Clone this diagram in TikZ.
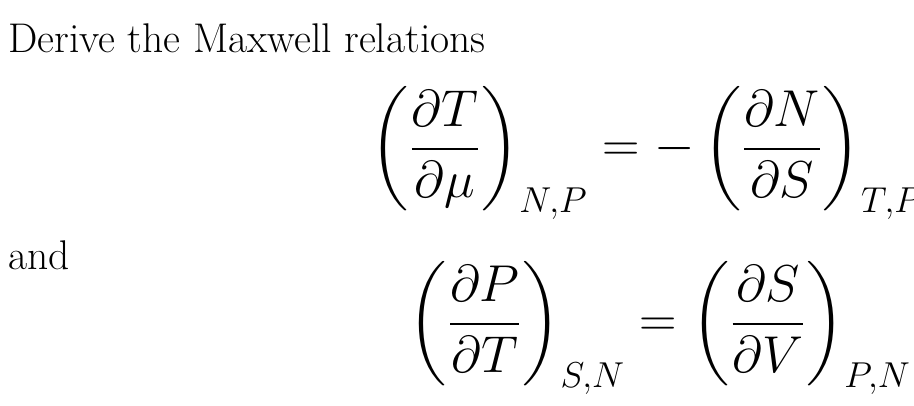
\documentclass[tikz,border=0pt]{standalone}
\usepackage{amsmath}
\begin{document}
\begin{tikzpicture}[x=1pt,y=-1pt,every node/.style={inner sep=0pt}]
\tikzset{txt/.style={font=\fontsize{41.5}{48}\selectfont,anchor=base west},
  eqn/.style={font=\fontsize{20}{24}\selectfont,scale=2.5,transform shape}}
\useasboundingbox (0,0) rectangle (914,406);
\node[txt] (t1) at (8,53) {Derive the Maxwell relations};
\node[txt] (t2) at (8,270) {and};
\node[eqn] (e1) at (647,153) {$\displaystyle\left(\frac{\partial T}{\partial \mu}\right)_{N,P} = -\left(\frac{\partial N}{\partial S}\right)_{T,P}$};
\node[eqn] (e2) at (660,328) {$\displaystyle\left(\frac{\partial P}{\partial T}\right)_{S,N} = \left(\frac{\partial S}{\partial V}\right)_{P,N}$};
\end{tikzpicture}
\end{document}
